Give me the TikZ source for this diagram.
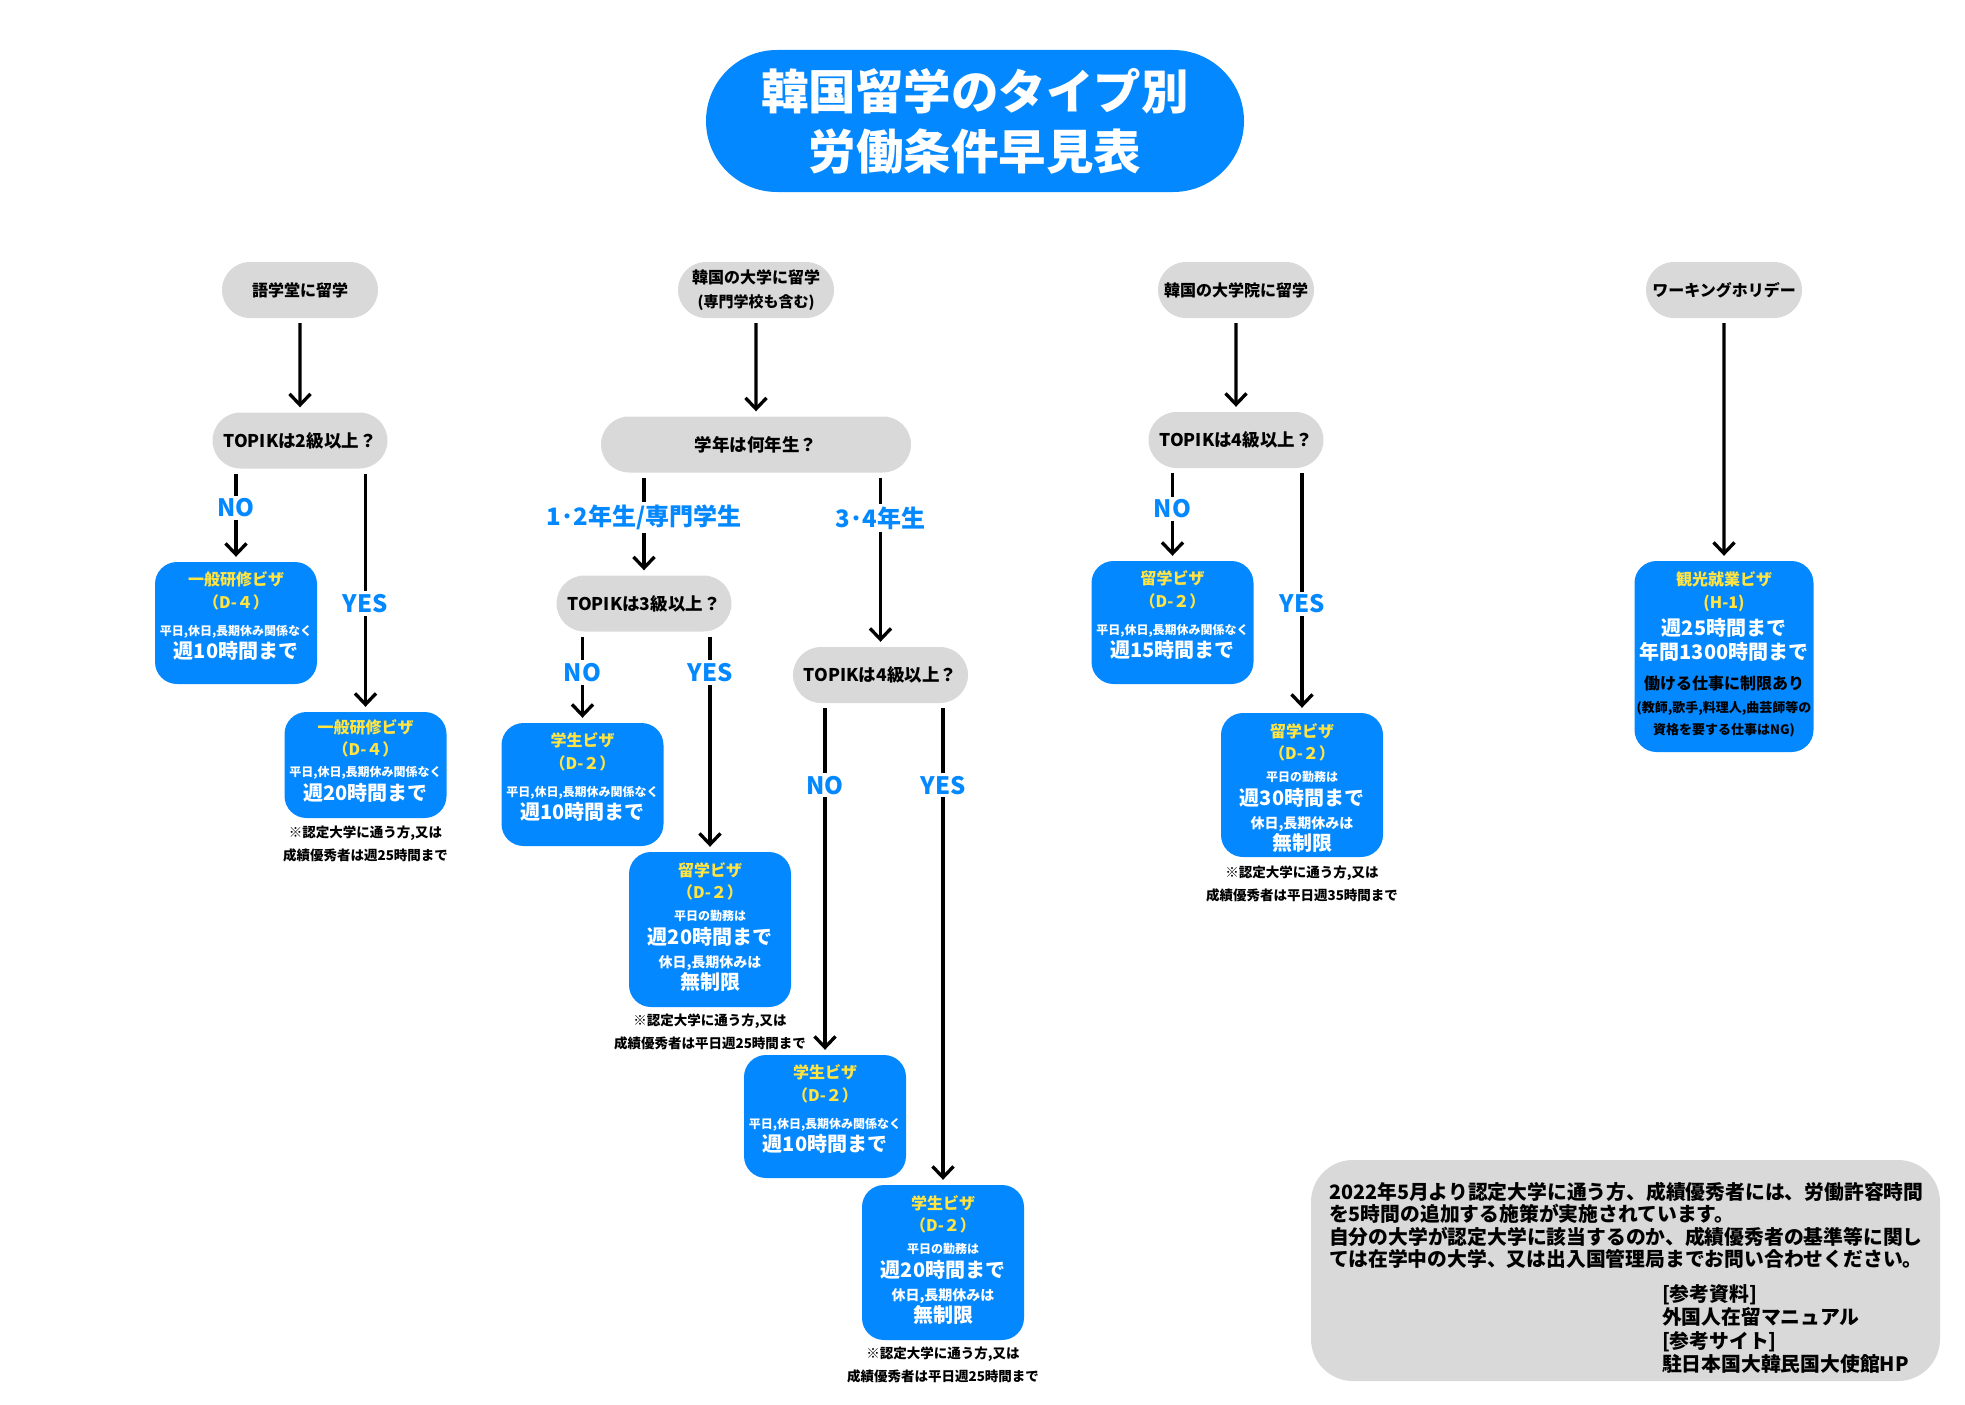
\documentclass[tikz,border=0pt]{standalone}
\usepackage{fontspec}
\setmainfont{Noto Sans CJK JP}
\usetikzlibrary{arrows.meta,shapes.misc}
\definecolor{ilblue}  {RGB}{3,136,255}
\definecolor{ilyellow}{RGB}{255,228,66}
\definecolor{ilgray}  {RGB}{217,217,217}
\lineskiplimit=-100pt
%% line formats inside the visa boxes
\newcommand\vname[1]{{\color{ilyellow}\fontsize{16}{21}\selectfont #1}}
\newcommand\vsmall[1]{{\fontsize{12}{21}\selectfont #1}}
\newcommand\vmid[1]{{\fontsize{14}{21}\selectfont #1}}
\newcommand\vbig[1]{{\fontsize{20}{21}\selectfont #1}}
\newcommand\topstrut{\rule{0pt}{15pt}}

\begin{document}
\begin{tikzpicture}[x=1pt,y=-1pt,
  every node/.style={font=\bfseries},
  start/.style={rounded rectangle,fill=ilgray,minimum width=156pt,minimum height=56pt,
                inner sep=0pt,align=center,font=\bfseries\fontsize{16}{24}\selectfont},
  ask/.style={rounded rectangle,fill=ilgray,minimum width=175pt,minimum height=56pt,
              inner sep=0pt,font=\bfseries\fontsize{17.5}{21}\selectfont},
  visa/.style={fill=ilblue,rounded corners=22pt,minimum width=162pt,inner sep=0pt},
  vtext/.style={anchor=north,inner sep=0pt,align=center,text=white,
                font=\bfseries\fontsize{12}{21}\selectfont},
  remark/.style={anchor=north,inner sep=0pt,align=center,
                 font=\bfseries\fontsize{13.5}{23}\selectfont},
  memotext/.style={anchor=north west,inner sep=0pt,align=left,
                   font=\bfseries\fontsize{19.8}{22.5}\selectfont},
  lbl/.style={fill=white,text=ilblue,inner sep=3pt,font=\bfseries\fontsize{24}{24}\selectfont},
  arr/.style={-{Straight Barb[length=11pt,width=21pt]},line width=3.3pt,
              shorten <=5pt,shorten >=5pt},
]
\useasboundingbox (0,0) rectangle (1965,1405);

%% Title
\node[rounded rectangle,fill=ilblue,minimum width=538pt,minimum height=142pt,inner sep=0pt,
      align=center,text=white,font=\bfseries\fontsize{47.5}{60}\selectfont]
  (title) at (975,121) {韓国留学のタイプ別\\労働条件早見表};

%% Starting points
\node[start] (lang) at (300,290) {語学堂に留学};
\node[start] (univ) at (756,290) {韓国の大学に留学\\{\fontsize{15}{24}\selectfont(専門学校も含む)}};
\node[start] (grad) at (1236,290) {韓国の大学院に留学};
\node[start] (wh)   at (1724,290) {ワーキングホリデー};

%% Questions
\node[ask] (qLang)    at (300,440.5) {TOPIKは2級以上？};
\node[ask,minimum width=310pt] (qYear) at (756,444.5) {学年は何年生？};
\node[ask] (qUniLow)  at (644,603.5) {TOPIKは3級以上？};
\node[ask] (qUniHigh) at (880.5,675) {TOPIKは4級以上？};
\node[ask] (qGrad)    at (1236,440)  {TOPIKは4級以上？};

%% Language school
\node[visa,minimum height=122pt] (lNo) at (236,623) {};
\node[vtext] at ([yshift=-8pt]lNo.north)
  {\topstrut\vname{一般研修ビザ}\\[2pt]\vname{（D-４）}\\[6.5pt]
   \vsmall{平日,休日,長期休み関係なく}\\[2pt]\vbig{週10時間まで}};
\node[visa,minimum height=106pt] (lYes) at (365.5,765) {};
\node[vtext] at ([yshift=-6pt]lYes.north)
  {\topstrut\vname{一般研修ビザ}\\[1pt]\vname{（D-４）}\\[0.5pt]
   \vsmall{平日,休日,長期休み関係なく}\\[3pt]\vbig{週20時間まで}};
\node[remark] at ([yshift=-7pt]lYes.south)
  {\rule{0pt}{12pt}※認定大学に通う方,又は\\成績優秀者は週25時間まで};

%% University, 1st/2nd year
\node[visa,minimum height=123pt] (uLowNo) at (582.5,784.5) {};
\node[vtext] at ([yshift=-8pt]uLowNo.north)
  {\topstrut\vname{学生ビザ}\\[2pt]\vname{（D-２）}\\[6.5pt]
   \vsmall{平日,休日,長期休み関係なく}\\[2pt]\vbig{週10時間まで}};
\node[visa,minimum height=155pt] (uLowYes) at (710,929.5) {};
\node[vtext] at ([yshift=-9pt]uLowYes.north)
  {\topstrut\vname{留学ビザ}\\[1pt]\vname{（D-２）}\\[1.5pt]\vsmall{平日の勤務は}\\[3pt]
   \vbig{週20時間まで}\\[1.7pt]\vmid{休日,長期休みは}\\[1.3pt]\vbig{無制限}};
\node[remark] at ([yshift=-6pt]uLowYes.south)
  {\rule{0pt}{12pt}※認定大学に通う方,又は\\成績優秀者は平日週25時間まで};

%% University, 3rd/4th year
\node[visa,minimum height=123pt] (uHighNo) at (825,1116.5) {};
\node[vtext] at ([yshift=-8pt]uHighNo.north)
  {\topstrut\vname{学生ビザ}\\[2pt]\vname{（D-２）}\\[6.5pt]
   \vsmall{平日,休日,長期休み関係なく}\\[2pt]\vbig{週10時間まで}};
\node[visa,minimum height=155pt] (uHighYes) at (943,1262.5) {};
\node[vtext] at ([yshift=-9pt]uHighYes.north)
  {\topstrut\vname{学生ビザ}\\[1pt]\vname{（D-２）}\\[1.5pt]\vsmall{平日の勤務は}\\[3pt]
   \vbig{週20時間まで}\\[1.7pt]\vmid{休日,長期休みは}\\[1.3pt]\vbig{無制限}};
\node[remark] at ([yshift=-6pt]uHighYes.south)
  {\rule{0pt}{12pt}※認定大学に通う方,又は\\成績優秀者は平日週25時間まで};

%% Graduate school
\node[visa,minimum height=123pt] (gNo) at (1172.5,622.5) {};
\node[vtext] at ([yshift=-8pt]gNo.north)
  {\topstrut\vname{留学ビザ}\\[2pt]\vname{（D-２）}\\[6.5pt]
   \vsmall{平日,休日,長期休み関係なく}\\[2pt]\vbig{週15時間まで}};
\node[visa,minimum height=144pt] (gYes) at (1302,785) {};
\node[vtext] at ([yshift=-9pt]gYes.north)
  {\topstrut\vname{留学ビザ}\\[1pt]\vname{（D-２）}\\[1.5pt]\vsmall{平日の勤務は}\\[3pt]
   \vbig{週30時間まで}\\[1.7pt]\vmid{休日,長期休みは}\\[1.3pt]\vbig{無制限}};
\node[remark] at ([yshift=-8pt]gYes.south)
  {\rule{0pt}{12pt}※認定大学に通う方,又は\\成績優秀者は平日週35時間まで};

%% Working holiday
\node[visa,minimum width=179pt,minimum height=191pt] (whVisa) at (1724,656.5) {};
\node[vtext] at ([yshift=-9pt]whVisa.north)
  {\topstrut\vname{観光就業ビザ}\\[2pt]\vname{(H-1)}\\[6.5pt]
   \vbig{週25時間まで}\\[3pt]\vbig{年間1300時間まで}\\[8.5pt]
   {\color{black}\fontsize{16}{21}\selectfont 働ける仕事に制限あり}\\[2.8pt]
   {\color{black}\fontsize{13}{21}\selectfont (教師,歌手,料理人,曲芸師等の}\\[1pt]
   {\color{black}\fontsize{13}{21}\selectfont 資格を要する仕事はNG)}};

%% Connectors
\draw[arr] (lang) -- (qLang);
\draw[arr] (univ) -- (qYear);
\draw[arr] (grad) -- (qGrad);
\draw[arr] (wh) -- (whVisa);

\draw[arr] (qLang.south -| lNo.north) -- (lNo.north) node[lbl,pos=.42]{NO};
\draw[arr] (qLang.south -| lYes.north) -- (lYes.north) node[lbl,pos=.555]{YES};

\draw[arr] (qYear.south -| qUniLow.north) -- (qUniLow.north) node[lbl,pos=.44]{1･2年生/専門学生};
\draw[arr] (qYear.south -| qUniHigh.north) -- (qUniHigh.north) node[lbl,pos=.26]{3･4年生};

\draw[arr] (qUniLow.south -| uLowNo.north) -- (uLowNo.north) node[lbl,pos=.45]{NO};
\draw[arr] (qUniLow.south -| uLowYes.north) -- (uLowYes.north) node[lbl,pos=.186]{YES};

\draw[arr] (qUniHigh.south -| uHighNo.north) -- (uHighNo.north) node[lbl,pos=.233]{NO};
\draw[arr] (qUniHigh.south -| uHighYes.north) -- (uHighYes.north) node[lbl,pos=.17]{YES};

\draw[arr] (qGrad.south -| gNo.north) -- (gNo.north) node[lbl,pos=.44]{NO};
\draw[arr] (qGrad.south -| gYes.north) -- (gYes.north) node[lbl,pos=.555]{YES};

%% Note box
\node[fill=ilgray,rounded corners=42pt,minimum width=629pt,minimum height=221pt,inner sep=0pt]
  (memo) at (1625.5,1270.5) {};
\node[memotext] at ([xshift=18pt,yshift=-22pt]memo.north west)
  {\rule{0pt}{16pt}2022年5月より認定大学に通う方、成績優秀者には、労働許容時間\\
   を5時間の追加する施策が実施されています。\\
   自分の大学が認定大学に該当するのか、成績優秀者の基準等に関し\\
   ては在学中の大学、又は出入国管理局までお問い合わせください。};
\node[memotext,font=\bfseries\fontsize{19.8}{23.3}\selectfont]
  at ([xshift=351pt,yshift=-124.5pt]memo.north west)
  {\rule{0pt}{16pt}[参考資料]\\外国人在留マニュアル\\{}[参考サイト]\\駐日本国大韓民国大使館HP};

\end{tikzpicture}
\end{document}
